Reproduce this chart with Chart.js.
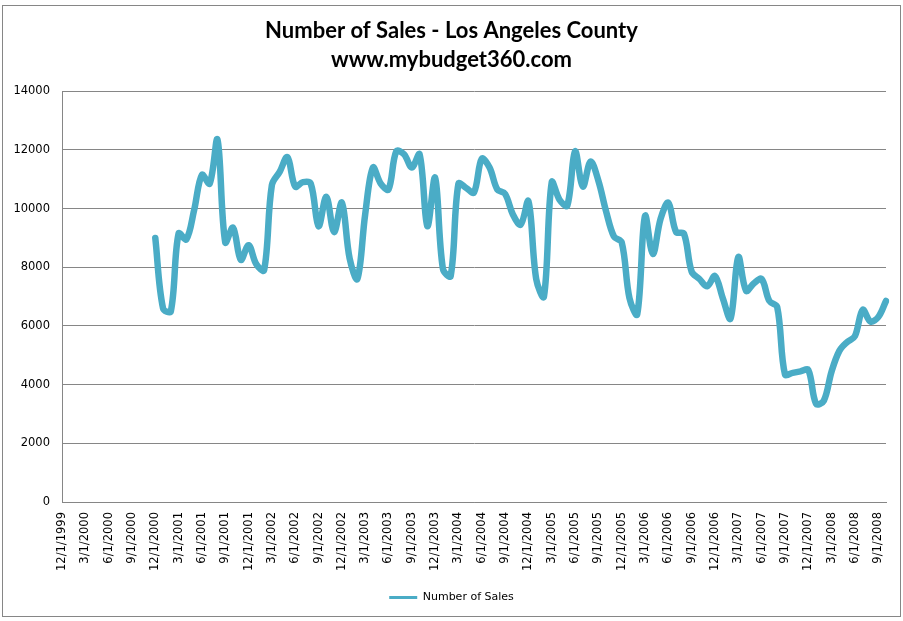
<!DOCTYPE html>
<html>
<head>
<meta charset="utf-8">
<script src="https://cdn.jsdelivr.net/npm/chart.js@4/dist/chart.umd.min.js"></script>
<style>
  html, body { margin: 0; padding: 0; background: #fff; }
  #wrap { width: 903px; height: 621px; }
</style>
</head>
<body>
<div id="wrap"><canvas id="chart-sales" width="903" height="621"></canvas></div>
<script>
// Monthly categories, 12/1/1999 .. 10/1/2008
const months = [
  '12/1/1999',
  '1/1/2000', '2/1/2000', '3/1/2000', '4/1/2000', '5/1/2000', '6/1/2000', '7/1/2000', '8/1/2000', '9/1/2000', '10/1/2000', '11/1/2000', '12/1/2000',
  '1/1/2001', '2/1/2001', '3/1/2001', '4/1/2001', '5/1/2001', '6/1/2001', '7/1/2001', '8/1/2001', '9/1/2001', '10/1/2001', '11/1/2001', '12/1/2001',
  '1/1/2002', '2/1/2002', '3/1/2002', '4/1/2002', '5/1/2002', '6/1/2002', '7/1/2002', '8/1/2002', '9/1/2002', '10/1/2002', '11/1/2002', '12/1/2002',
  '1/1/2003', '2/1/2003', '3/1/2003', '4/1/2003', '5/1/2003', '6/1/2003', '7/1/2003', '8/1/2003', '9/1/2003', '10/1/2003', '11/1/2003', '12/1/2003',
  '1/1/2004', '2/1/2004', '3/1/2004', '4/1/2004', '5/1/2004', '6/1/2004', '7/1/2004', '8/1/2004', '9/1/2004', '10/1/2004', '11/1/2004', '12/1/2004',
  '1/1/2005', '2/1/2005', '3/1/2005', '4/1/2005', '5/1/2005', '6/1/2005', '7/1/2005', '8/1/2005', '9/1/2005', '10/1/2005', '11/1/2005', '12/1/2005',
  '1/1/2006', '2/1/2006', '3/1/2006', '4/1/2006', '5/1/2006', '6/1/2006', '7/1/2006', '8/1/2006', '9/1/2006', '10/1/2006', '11/1/2006', '12/1/2006',
  '1/1/2007', '2/1/2007', '3/1/2007', '4/1/2007', '5/1/2007', '6/1/2007', '7/1/2007', '8/1/2007', '9/1/2007', '10/1/2007', '11/1/2007', '12/1/2007',
  '1/1/2008', '2/1/2008', '3/1/2008', '4/1/2008', '5/1/2008', '6/1/2008', '7/1/2008', '8/1/2008', '9/1/2008', '10/1/2008'
];

// Number of sales per month (no data before 12/1/2000)
const sales = [
  null,
  null, null, null, null, null, null, null, null, null, null, null, 9000,
  6600, 6500, 9150, 8950, 9950, 11150, 10850, 12350, 8850, 9350, 8250, 8750,
  8100, 7900, 10800, 11250, 11750, 10750, 10900, 10850, 9400, 10400, 9200, 10200,
  8300, 7600, 9800, 11400, 10850, 10650, 11950, 11850, 11400, 11850, 9400, 11050,
  7950, 7700, 10850, 10700, 10550, 11700, 11400, 10650, 10500, 9800, 9450, 10250,
  7600, 7000, 10900, 10300, 10100, 11950, 10750, 11600, 10950, 9900, 9050, 8850,
  6950, 6400, 9750, 8450, 9650, 10200, 9200, 9150, 7850, 7600, 7350, 7700,
  6950, 6250, 8350, 7200, 7450, 7600, 6850, 6650, 4350, 4400, 4450, 4500,
  3350, 3450, 4450, 5150, 5450, 5650, 6550, 6150, 6300, 6850
];

const titleLines = ['Number of Sales - Los Angeles County', 'www.mybudget360.com'];
const seriesName = 'Number of Sales';

const lineColor = '#4aacc6';
const gridColor = '#868686';
const tickFont = { family: 'DejaVu Sans', size: 11.5 };

// outer frame like the Excel chart border
const framePlugin = {
    id: 'frame',
    beforeDraw(chart) {
        const ctx = chart.ctx;
        ctx.save();
        ctx.fillStyle = '#fff';
        ctx.fillRect(0, 0, chart.width, chart.height);
        ctx.strokeStyle = gridColor;
        ctx.lineWidth = 1;
        ctx.strokeRect(2.5, 5.5, 898, 611);
        ctx.restore();
    }
};

const ctx = document.getElementById('chart-sales');
new Chart(ctx, {
    type: 'line',
    data: {
        labels: months,
        datasets: [{
            label: seriesName,
            data: sales,
            borderColor: lineColor,
            backgroundColor: lineColor,
            borderWidth: 6.5,
            pointRadius: 0,
            tension: 0.35,
            fill: false,
            borderCapStyle: 'round',
            borderJoinStyle: 'round'
        }]
    },
    options: {
        responsive: false,
        animation: false,
        layout: { padding: { left: 10, right: 10, top: 0, bottom: 8 } },
        plugins: {
            title: {
                display: true,
                text: titleLines,
                color: '#000',
                font: { family: 'Lato', size: 22, weight: 'bold', lineHeight: 1.3 },
                padding: { top: 17, bottom: 17 }
            },
            legend: {
                position: 'bottom',
                labels: {
                    color: '#000',
                    font: { family: 'DejaVu Sans', size: 11 },
                    boxWidth: 28,
                    boxHeight: 3,
                    padding: 10,
                    generateLabels: (chart) => Chart.defaults.plugins.legend.labels.generateLabels(chart)
                        .map(l => ({ ...l, lineWidth: 0, fillStyle: lineColor }))
                }
            },
            tooltip: { enabled: false }
        },
        scales: {
            x: {
                grid: { display: false, drawTicks: false },
                border: { display: true, color: gridColor, width: 1 },
                ticks: {
                    color: '#000',
                    font: tickFont,
                    autoSkip: false,
                    minRotation: 90,
                    maxRotation: 90,
                    padding: 10,
                    callback: (val, idx) => (idx % 3 === 0 ? months[idx] : null)
                },
                afterFit: (scale) => { scale.height = 80; }
            },
            y: {
                min: 0,
                max: 14000,
                grid: { color: gridColor, drawTicks: false },
                border: { display: true, color: gridColor, width: 1 },
                ticks: {
                    color: '#000',
                    font: tickFont,
                    stepSize: 2000,
                    padding: 12,
                    callback: (v) => String(v)
                },
                afterFit: (scale) => { scale.width = 52; }
            },
            // empty right-hand spacer so the plot ends where the reference does
            spacer: {
                type: 'linear',
                position: 'right',
                grid: { display: false, drawTicks: false },
                border: { display: false },
                ticks: { display: false },
                afterFit: (scale) => { scale.width = 7; }
            }
        }
    },
    plugins: [framePlugin]
});
</script>
</body>
</html>
